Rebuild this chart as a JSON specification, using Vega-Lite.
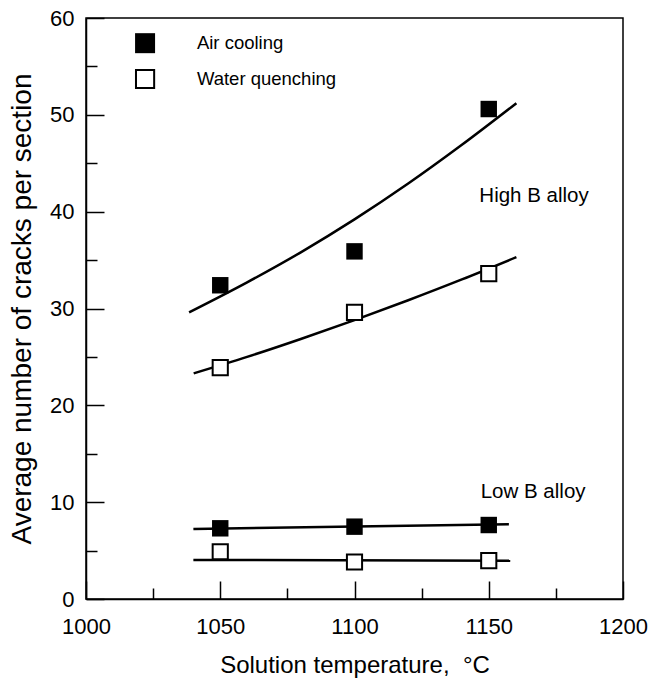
{
  "$schema": "https://vega.github.io/schema/vega-lite/v6.json",
  "width": 537,
  "height": 581,
  "autosize": {"type": "none"},
  "padding": {"left": 86, "top": 18, "right": 28, "bottom": 89},
  "background": "white",
  "config": {
    "view": {"stroke": "black", "strokeWidth": 1.5},
    "font": "Liberation Sans",
    "axis": {"grid": false, "domainColor": "black", "domainWidth": 1.5, "tickColor": "black", "tickWidth": 1.5, "labelColor": "black", "titleColor": "black", "labelFont": "Liberation Sans", "titleFont": "Liberation Sans", "titleFontWeight": "normal", "labelFontSize": 22, "titleFontSize": 24}
  },
  "datasets": {
    "points": [
      {"series": "Air cooling", "temp": 1050, "cracks": 32.4},
      {"series": "Air cooling", "temp": 1100, "cracks": 35.9},
      {"series": "Air cooling", "temp": 1150, "cracks": 50.6},
      {"series": "Air cooling", "temp": 1050, "cracks": 7.3},
      {"series": "Air cooling", "temp": 1100, "cracks": 7.47},
      {"series": "Air cooling", "temp": 1150, "cracks": 7.64},
      {"series": "Water quenching", "temp": 1050, "cracks": 23.9},
      {"series": "Water quenching", "temp": 1100, "cracks": 29.6},
      {"series": "Water quenching", "temp": 1150, "cracks": 33.6},
      {"series": "Water quenching", "temp": 1050, "cracks": 4.88},
      {"series": "Water quenching", "temp": 1100, "cracks": 3.82},
      {"series": "Water quenching", "temp": 1150, "cracks": 3.96}
    ],
    "curves": [
      {"curve": "airHigh", "temp": 1038.4, "val": 29.6},
      {"curve": "airHigh", "temp": 1060, "val": 32.7},
      {"curve": "airHigh", "temp": 1080, "val": 35.8},
      {"curve": "airHigh", "temp": 1100, "val": 39.2},
      {"curve": "airHigh", "temp": 1120, "val": 42.9},
      {"curve": "airHigh", "temp": 1140, "val": 46.9},
      {"curve": "airHigh", "temp": 1160.3, "val": 51.2},
      {"curve": "waterHigh", "temp": 1040.1, "val": 23.3},
      {"curve": "waterHigh", "temp": 1060, "val": 25.0},
      {"curve": "waterHigh", "temp": 1080, "val": 26.85},
      {"curve": "waterHigh", "temp": 1100, "val": 28.8},
      {"curve": "waterHigh", "temp": 1120, "val": 30.85},
      {"curve": "waterHigh", "temp": 1140, "val": 33.0},
      {"curve": "waterHigh", "temp": 1160.3, "val": 35.3},
      {"curve": "airLow", "temp": 1040, "val": 7.23},
      {"curve": "airLow", "temp": 1157.5, "val": 7.71},
      {"curve": "waterLow", "temp": 1040, "val": 4.03},
      {"curve": "waterLow", "temp": 1158, "val": 3.96}
    ],
    "legend": [
      {"series": "Air cooling", "temp": 1022, "cracks": 57.4, "tx": 1041.3},
      {"series": "Water quenching", "temp": 1022, "cracks": 53.7, "tx": 1041.3}
    ],
    "labels": [
      {"text": "High B alloy", "temp": 1146.5, "cracks": 41.6},
      {"text": "Low B alloy", "temp": 1147, "cracks": 11.1}
    ]
  },
  "encoding": {
    "x": {"type": "quantitative", "scale": {"domain": [1000, 1200], "nice": false, "zero": false}},
    "y": {"type": "quantitative", "scale": {"domain": [0, 60], "nice": false}}
  },
  "layer": [
    {
      "data": {"name": "curves"},
      "mark": {"type": "line", "color": "black", "strokeWidth": 2.5, "interpolate": "monotone"},
      "encoding": {
        "x": {"field": "temp", "type": "quantitative",
          "axis": {"title": "Solution temperature,\u00a0\u00a0°C", "values": [1000, 1025, 1050, 1075, 1100, 1125, 1150, 1175, 1200],
            "format": "d",
            "labelExpr": "datum.value % 50 === 0 ? datum.label : ''",
            "tickSize": {"condition": {"test": "datum.value % 50 === 0", "value": -18}, "value": -11},
            "labelPadding": 35, "titlePadding": 16, "labelFlush": false}},
        "y": {"field": "val", "type": "quantitative",
          "axis": {"title": "Average number of cracks per section", "titleFontSize": 28, "values": [0, 5, 10, 15, 20, 25, 30, 35, 40, 45, 50, 55, 60],
            "format": "d",
            "labelExpr": "datum.value % 10 === 0 ? datum.label : ''",
            "tickSize": {"condition": {"test": "datum.value % 10 === 0", "value": -18}, "value": -11},
            "labelPadding": 30, "titlePadding": 13, "labelFlush": false}},
        "detail": {"field": "curve"}
      }
    },
    {
      "data": {"name": "points"},
      "transform": [{"filter": "datum.series === 'Air cooling'"}],
      "mark": {"type": "point", "shape": "square", "filled": true, "color": "black", "size": 270, "opacity": 1},
      "encoding": {"x": {"field": "temp"}, "y": {"field": "cracks"}}
    },
    {
      "data": {"name": "points"},
      "transform": [{"filter": "datum.series === 'Water quenching'"}],
      "mark": {"type": "point", "shape": "square", "filled": true, "fill": "white", "stroke": "black", "strokeWidth": 2, "size": 230, "opacity": 1},
      "encoding": {"x": {"field": "temp"}, "y": {"field": "cracks"}}
    },
    {
      "data": {"name": "legend"},
      "transform": [{"filter": "datum.series === 'Air cooling'"}],
      "mark": {"type": "point", "shape": "square", "filled": true, "color": "black", "size": 400, "opacity": 1},
      "encoding": {"x": {"field": "temp"}, "y": {"field": "cracks"}}
    },
    {
      "data": {"name": "legend"},
      "transform": [{"filter": "datum.series === 'Water quenching'"}],
      "mark": {"type": "point", "shape": "square", "filled": true, "fill": "white", "stroke": "black", "strokeWidth": 2, "size": 330, "opacity": 1},
      "encoding": {"x": {"field": "temp"}, "y": {"field": "cracks"}}
    },
    {
      "data": {"name": "legend"},
      "mark": {"type": "text", "align": "left", "baseline": "middle", "fontSize": 18.5, "font": "Liberation Sans", "color": "black"},
      "encoding": {"x": {"field": "tx"}, "y": {"field": "cracks"}, "text": {"field": "series"}}
    },
    {
      "data": {"name": "labels"},
      "mark": {"type": "text", "align": "left", "baseline": "middle", "fontSize": 20.5, "font": "Liberation Sans", "color": "black"},
      "encoding": {"x": {"field": "temp"}, "y": {"field": "cracks"}, "text": {"field": "text"}}
    }
  ]
}
